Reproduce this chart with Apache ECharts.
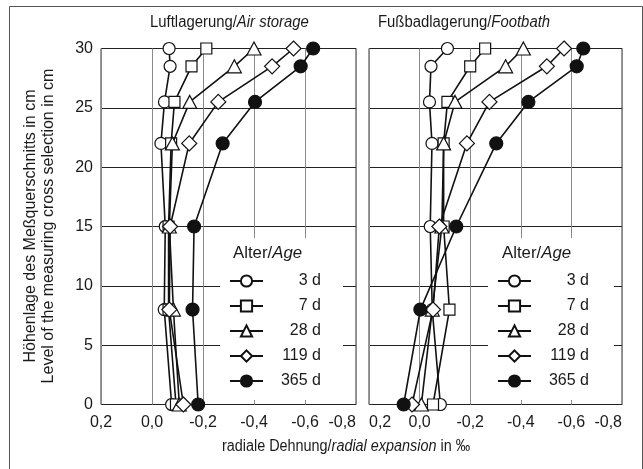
<!DOCTYPE html>
<html>
<head>
<meta charset="utf-8">
<script src="https://cdn.jsdelivr.net/npm/echarts@6/dist/echarts.min.js"></script>
<style>
html,body{margin:0;padding:0;background:#fff;}
#chart{width:643px;height:469px;}
</style>
</head>
<body>
<div id="chart"></div>
<script>
// ---- data ----
const levels = [30, 28.5, 25.5, 22, 15, 8, 0];            // cm
const ageNames = ['3 d', '7 d', '28 d', '119 d', '365 d'];
const xTicks = [0.2, 0.0, -0.2, -0.4, -0.6, -0.8];
const yTicks = [0, 5, 10, 15, 20, 25, 30];

// Luftlagerung / Air storage  (radial expansion in ‰)
const air3   = [-0.067, -0.071, -0.049, -0.035, -0.052, -0.048, -0.077];
const air7   = [-0.213, -0.155, -0.088, -0.075, -0.065, -0.065, -0.094];
const air28  = [-0.400, -0.323, -0.148, -0.080, -0.068, -0.084, -0.107];
const air119 = [-0.555, -0.471, -0.260, -0.146, -0.071, -0.068, -0.123];
const air365 = [-0.632, -0.583, -0.404, -0.277, -0.165, -0.159, -0.181];

// Fußbadlagerung / Footbath
const foot3   = [-0.110, -0.045, -0.039, -0.049, -0.042, -0.050, -0.082];
const foot7   = [-0.259, -0.200, -0.110, -0.095, -0.095, -0.118, -0.053];
const foot28  = [-0.410, -0.340, -0.140, -0.095, -0.088, -0.050, -0.007];
const foot119 = [-0.571, -0.503, -0.276, -0.187, -0.078, -0.053,  0.030];
const foot365 = [-0.647, -0.621, -0.430, -0.303, -0.145, -0.003,  0.063];

const airSeries  = [air3, air7, air28, air119, air365];
const footSeries = [foot3, foot7, foot28, foot119, foot365];

// ---- styling ----
const FONT = "'Liberation Sans Narrow', 'Arial Narrow', 'Liberation Sans', Arial, sans-serif";
const INK = '#1a1a1a';
const symbols = ['circle', 'rect', 'triangle', 'diamond', 'circle'];
const symbolSizes = [12, 11, [14, 13], 15, 13];
const filled = [false, false, false, false, true];

function fmt(v) {
  if (Math.abs(v) < 1e-9) return '0,0';
  return v.toFixed(1).replace('.', ',');
}

const chart = echarts.init(document.getElementById('chart'), null, {renderer: 'canvas'});

const grids = [
  {left: 101, top: 48.5, width: 255, height: 356, show: true, borderColor: '#333', borderWidth: 1, backgroundColor: 'transparent'},
  {left: 369, top: 48.5, width: 253, height: 356, show: true, borderColor: '#333', borderWidth: 1, backgroundColor: 'transparent'}
];

function xAxisFor(i) {
  return {
    type: 'value', gridIndex: i, inverse: true,
    min: -0.8, max: 0.2, interval: 0.2,
    axisLine: {show: false},
    axisTick: {show: false},
    splitLine: {show: true, lineStyle: {color: '#8a8a8a', width: 1}},
    axisLabel: {
      fontFamily: FONT, fontSize: 16, color: INK, margin: 10,
      formatter: fmt,
      alignMinLabel: 'right',
      alignMaxLabel: i === 0 ? 'center' : 'left'
    }
  };
}
function yAxisFor(i) {
  return {
    type: 'value', gridIndex: i,
    min: 0, max: 30, interval: 5,
    axisLine: {show: false},
    axisTick: {show: false},
    splitLine: {show: true, lineStyle: {color: '#222', width: 1}},
    axisLabel: {show: i === 0, fontFamily: FONT, fontSize: 16, color: INK, margin: 8}
  };
}

const series = [];
[airSeries, footSeries].forEach((panel, p) => {
  panel.forEach((vals, i) => {
    series.push({
      type: 'line', name: ageNames[i],
      xAxisIndex: p, yAxisIndex: p,
      data: levels.map((y, k) => [vals[k], y]),
      symbol: symbols[i], symbolSize: symbolSizes[i],
      showAllSymbol: true,
      itemStyle: {color: filled[i] ? '#111' : '#fff', borderColor: '#111', borderWidth: 1.2},
      lineStyle: {color: '#111', width: 1.6},
      emphasis: {disabled: true},
      z: 3 + i
    });
  });
});

function legendFor(left) {
  return {
    orient: 'vertical', left: left, top: 273, padding: 0,
    itemWidth: 33, itemHeight: 14, itemGap: 9,
    data: ageNames,
    selectedMode: false,
    formatter: n => '{a|' + n + '}',
    textStyle: {
      fontFamily: FONT, fontSize: 16, color: INK,
      rich: {a: {width: 53, align: 'right', fontFamily: FONT, fontSize: 16, color: INK, lineHeight: 14}}
    }
  };
}

const titleRich = {
  n: {fontFamily: FONT, fontSize: 16, color: INK},
  i: {fontFamily: FONT, fontSize: 16, color: INK, fontStyle: 'italic'}
};

function legendBox(x, w) {
  return {type: 'rect', left: x, top: 238, z: 1,
    shape: {width: w, height: 162}, style: {fill: '#fff'}};
}
function rtext(x, y, str, align, sx) {
  return {type: 'text', x: x, y: y, z: 10, scaleX: sx || 1,
    style: {text: str, rich: titleRich, font: '16px ' + FONT, fill: INK,
      align: align || 'left', verticalAlign: 'middle'}};
}

chart.setOption({
  animation: false,
  backgroundColor: '#fff',
  grid: grids,
  xAxis: [xAxisFor(0), xAxisFor(1)],
  yAxis: [yAxisFor(0), yAxisFor(1)],
  legend: [legendFor(229), legendFor(497)],
  series: series,
  graphic: [
    {type: 'rect', left: 7, top: 4, z: 0, silent: true,
      shape: {x: 0.5, y: 0.5, width: 633, height: 480},
      style: {fill: 'none', stroke: '#555', lineWidth: 1}},
    legendBox(220, 123),
    legendBox(488, 126),
    rtext(150, 23, '{n|Luftlagerung/}{i|Air storage}', 'left', 0.93),
    rtext(378, 23, '{n|Fußbadlagerung/}{i|Footbath}', 'left', 0.93),
    rtext(233, 254, '{n|Alter/}{i|Age}', 'left', 1.05),
    rtext(502, 254, '{n|Alter/}{i|Age}', 'left', 1.05),
    rtext(346, 447, '{n|radiale Dehnung/}{i|radial expansion}{n| in ‰}', 'center', 0.9),
    {type: 'text', x: 31, y: 226, rotation: Math.PI / 2, z: 10,
      style: {text: 'Höhenlage des Meßquerschnitts in cm', font: '16px ' + FONT, fill: INK,
        align: 'center', verticalAlign: 'middle'}},
    {type: 'text', x: 49, y: 226, rotation: Math.PI / 2, z: 10,
      style: {text: 'Level of the measuring cross selection in cm', font: '16px ' + FONT, fill: INK,
        align: 'center', verticalAlign: 'middle'}}
  ]
});
</script>
</body>
</html>
